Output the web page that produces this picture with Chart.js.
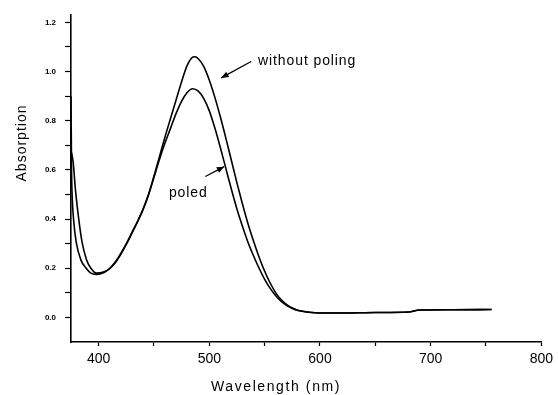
<!DOCTYPE html>
<html>
<head>
<meta charset="utf-8">
<script src="https://cdn.jsdelivr.net/npm/chart.js@4.4.0/dist/chart.umd.min.js"></script>
<style>
  html, body { margin: 0; padding: 0; background: #fff; }
  #wrap { width: 558px; height: 395px; }
</style>
</head>
<body>
<div id="wrap"><canvas id="absChart" width="558" height="395"></canvas></div>
<script>
// wavelengths (nm) and absorption
const nmWithout = [375.5, 377, 379, 382, 385, 389, 393, 398, 405, 410, 415, 420, 425, 430, 435, 440, 445, 450, 455, 460, 465, 470, 475, 480, 484, 487, 490, 495, 500, 505, 510, 515, 520, 525, 530, 535, 540, 545, 550, 555, 560, 565, 570, 575, 580, 590, 600, 620, 650, 680, 690, 720, 755]
const absWithout = [0.67, 0.63, 0.52, 0.40, 0.306, 0.235, 0.20, 0.18, 0.186, 0.20, 0.225, 0.26, 0.30, 0.345, 0.39, 0.44, 0.50, 0.575, 0.655, 0.735, 0.81, 0.885, 0.96, 1.025, 1.055, 1.06, 1.052, 1.02, 0.965, 0.895, 0.815, 0.728, 0.637, 0.546, 0.46, 0.38, 0.31, 0.245, 0.188, 0.14, 0.1, 0.072, 0.052, 0.038, 0.029, 0.021, 0.018, 0.018, 0.02, 0.022, 0.03, 0.031, 0.032]

const nmPoled = [375, 375.5, 376, 377.3, 379.7, 384, 388.7, 393, 398, 405, 410, 415, 420, 425, 430, 435, 440, 445, 450, 455, 460, 465, 470, 475, 480, 485, 490, 495, 500, 505, 510, 515, 520, 525, 530, 535, 540, 545, 550, 555, 560, 565, 570, 575, 580, 590, 600, 620, 650, 680, 690, 720, 755]
const absPoled = [0.90, 0.60, 0.50, 0.40, 0.306, 0.233, 0.20, 0.18, 0.175, 0.183, 0.198, 0.222, 0.257, 0.297, 0.342, 0.387, 0.437, 0.497, 0.57, 0.643, 0.71, 0.77, 0.83, 0.88, 0.915, 0.93, 0.92, 0.89, 0.84, 0.77, 0.69, 0.605, 0.52, 0.44, 0.37, 0.305, 0.25, 0.2, 0.155, 0.118, 0.088, 0.065, 0.048, 0.036, 0.028, 0.021, 0.018, 0.018, 0.02, 0.022, 0.03, 0.031, 0.032]

const xTicks = [400, 450, 500, 550, 600, 650, 700, 750, 800]
const xTickLabels = ['400', '', '500', '', '600', '', '700', '', '800']
const yTicks = [0, 0.1, 0.2, 0.3, 0.4, 0.5, 0.6, 0.7, 0.8, 0.9, 1.0, 1.1, 1.2]
const yTickLabels = ['0.0', '', '0.2', '', '0.4', '', '0.6', '', '0.8', '', '1.0', '', '1.2']

const xTitle = 'Wavelength (nm)'
const yTitle = 'Absorption'

// annotation labels with arrow (from -> to) in data units
const notes = [
  { text: 'without poling', at: [544, 1.041], from: [537.8, 1.041], to: [510.7, 0.974] },
  { text: 'poled', at: [481, 0.506], from: [496.4, 0.573], to: [513.4, 0.613] },
]

function toPoints(xs, ys) {
  return xs.map((x, i) => ({ x: x, y: ys[i] }))
}

const notesPlugin = {
  id: 'notes',
  afterDraw(chart) {
    const ctx = chart.ctx
    const xs = chart.scales.x
    const ys = chart.scales.y
    const area = chart.chartArea
    ctx.save()
    ctx.fillStyle = '#000'
    ctx.strokeStyle = '#000'
    ctx.lineWidth = 1.3

    notes.forEach(n => {
      ctx.font = '14px "Liberation Sans", Arial, sans-serif'
      ctx.letterSpacing = '0.9px'
      ctx.textBaseline = 'middle'
      if (n.at[0] > n.from[0]) {
        ctx.textAlign = 'left'
      } else {
        ctx.textAlign = 'center'
      }
      ctx.fillText(n.text, xs.getPixelForValue(n.at[0]), ys.getPixelForValue(n.at[1]))

      const x1 = xs.getPixelForValue(n.from[0])
      const y1 = ys.getPixelForValue(n.from[1])
      const x2 = xs.getPixelForValue(n.to[0])
      const y2 = ys.getPixelForValue(n.to[1])
      ctx.beginPath()
      ctx.moveTo(x1, y1)
      ctx.lineTo(x2, y2)
      ctx.stroke()
      const ang = Math.atan2(y2 - y1, x2 - x1)
      ctx.beginPath()
      ctx.moveTo(x2, y2)
      ctx.lineTo(x2 - 8 * Math.cos(ang - 0.4), y2 - 8 * Math.sin(ang - 0.4))
      ctx.lineTo(x2 - 8 * Math.cos(ang + 0.4), y2 - 8 * Math.sin(ang + 0.4))
      ctx.closePath()
      ctx.fill()
    })

    // axis titles
    ctx.font = '14px "Liberation Sans", Arial, sans-serif'
    ctx.letterSpacing = '1.6px'
    ctx.textAlign = 'center'
    ctx.textBaseline = 'middle'
    ctx.fillText(xTitle, area.left + 205, area.bottom + 45)

    ctx.letterSpacing = '1px'
    ctx.translate(22, area.top + 128)
    ctx.rotate(-Math.PI / 2)
    ctx.fillText(yTitle, 0, 0)
    ctx.restore()
  },
}

const ctx = document.getElementById('absChart').getContext('2d')
const chart = new Chart(ctx, {
  type: 'line',
  data: {
    datasets: [
      {
        label: 'without poling',
        data: toPoints(nmWithout, absWithout),
        borderColor: '#000',
        borderWidth: 1.6,
        pointRadius: 0,
        fill: false,
        cubicInterpolationMode: 'monotone',
      },
      {
        label: 'poled',
        data: toPoints(nmPoled, absPoled),
        borderColor: '#000',
        borderWidth: 1.6,
        pointRadius: 0,
        fill: false,
        cubicInterpolationMode: 'monotone',
      },
    ],
  },
  options: {
    responsive: false,
    animation: false,
    layout: { padding: { left: 0, right: 11, top: 15, bottom: 0 } },
    plugins: {
      legend: { display: false },
      tooltip: { enabled: false },
    },
    scales: {
      x: {
        type: 'linear',
        min: 375,
        max: 800,
        afterFit: s => { s.height = 53 },
        afterBuildTicks: s => { s.ticks = xTicks.map(v => ({ value: v })) },
        border: { display: true, color: '#000', width: 1.6 },
        grid: { display: true, drawOnChartArea: false, drawTicks: true, tickLength: 4, tickColor: '#000', tickWidth: 1.2 },
        ticks: {
          color: '#000',
          padding: 5,
          maxRotation: 0,
          autoSkip: false,
          font: { family: '"Liberation Sans", Arial, sans-serif', size: 14 },
          callback: (v, i) => xTickLabels[i],
        },
      },
      y: {
        type: 'linear',
        min: -0.1,
        max: 1.23,
        afterFit: s => { s.width = 71 },
        afterBuildTicks: s => { s.ticks = yTicks.map(v => ({ value: v })) },
        border: { display: true, color: '#000', width: 1.6 },
        grid: { display: true, drawOnChartArea: false, drawTicks: true, tickLength: 6, tickColor: '#000', tickWidth: 1.2 },
        ticks: {
          color: '#000',
          padding: 9,
          autoSkip: false,
          font: { family: '"Liberation Sans", Arial, sans-serif', size: 8, weight: 'bold' },
          callback: (v, i) => yTickLabels[i],
        },
      },
    },
  },
  plugins: [notesPlugin],
})
</script>
</body>
</html>
